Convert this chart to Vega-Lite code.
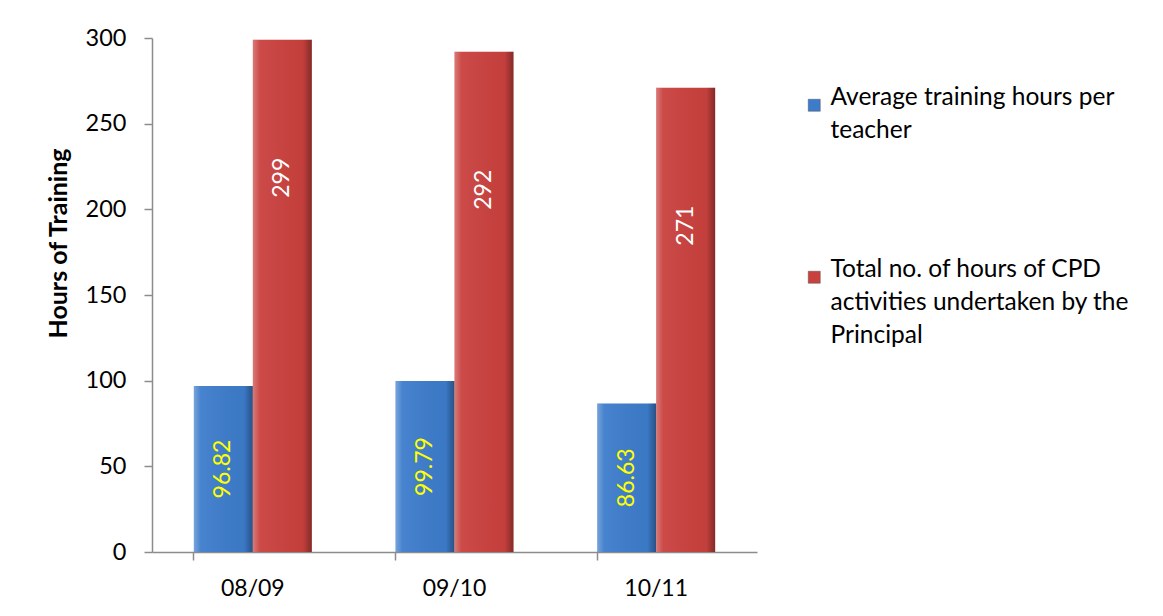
{
  "$schema": "https://vega.github.io/schema/vega-lite/v6.json",
  "autosize": {"type": "none"},
  "width": 605,
  "height": 514,
  "padding": {"left": 152, "top": 38, "right": 406, "bottom": 64},
  "background": "white",
  "config": {
    "view": {"stroke": null},
    "font": "Lato"
  },
  "data": {
    "values": [
      {"year": "08/09", "series": "Average training hours per teacher", "value": 96.82, "label": "96.82"},
      {"year": "08/09", "series": "Total no. of hours of CPD activities undertaken by the Principal", "value": 299, "label": "299"},
      {"year": "09/10", "series": "Average training hours per teacher", "value": 99.79, "label": "99.79"},
      {"year": "09/10", "series": "Total no. of hours of CPD activities undertaken by the Principal", "value": 292, "label": "292"},
      {"year": "10/11", "series": "Average training hours per teacher", "value": 86.63, "label": "86.63"},
      {"year": "10/11", "series": "Total no. of hours of CPD activities undertaken by the Principal", "value": 271, "label": "271"}
    ]
  },
  "encoding": {
    "x": {
      "field": "year", "type": "nominal", "sort": null,
      "scale": {"paddingInner": 0.415, "paddingOuter": 0.2075},
      "axis": {
        "title": null, "labelAngle": 0, "labelFontSize": 23, "labelColor": "#000000",
        "labelPadding": 17, "domainColor": "#8c8c8c", "domainWidth": 1.5,
        "tickColor": "#8c8c8c", "tickSize": 8, "tickWidth": 1.5, "bandPosition": 0,
        "encode": {"ticks": {"update": {"y2": {"value": -8}}}}
      }
    },
    "xOffset": {
      "field": "series", "type": "nominal", "sort": null,
      "scale": {"paddingInner": 0, "paddingOuter": 0}
    },
    "y": {
      "field": "value", "type": "quantitative",
      "scale": {"domain": [0, 300], "nice": false},
      "axis": {
        "title": "Hours of Training", "titleFontSize": 25, "titleFontWeight": "bold",
        "titleColor": "#000000", "titleX": -94, "titleY": 205, "titleBaseline": "middle", "titleAngle": -90,
        "values": [0, 50, 100, 150, 200, 250, 300],
        "labelFontSize": 23.5, "labelColor": "#000000", "labelPadding": 18,
        "grid": false, "domainColor": "#8c8c8c", "domainWidth": 1.5,
        "tickColor": "#8c8c8c", "tickSize": 8, "tickWidth": 1.5,
        "encode": {"ticks": {"update": {"x2": {"value": 8}}}}
      }
    }
  },
  "layer": [
    {
      "mark": {"type": "bar"},
      "encoding": {
        "color": {
          "field": "series", "type": "nominal", "sort": null,
          "scale": {"range": ["#3D7CCB", "#C9413E"]},
          "legend": {
            "title": null, "orient": "none", "legendX": 650, "legendY": 55,
            "symbolType": "square", "symbolSize": 144, "symbolStrokeColor": "#555555", "symbolStrokeWidth": 0.5,
            "labelFontSize": 24.5, "labelColor": "#000000", "labelLimit": 400,
            "labelBaseline": "top", "labelOffset": 4, "rowPadding": 114,
            "labelExpr": "datum.label == 'Average training hours per teacher' ? ['Average training hours per', 'teacher'] : ['Total no. of hours of CPD', 'activities undertaken by the', 'Principal']",
            "labelFont": "Lato",
            "encode": {"labels": {"update": {"dy": {"value": -19}, "lineHeight": {"value": 33}}}}
          }
        }
      }
    },
    {
      "mark": {
        "type": "bar",
        "fill": {
          "gradient": "linear", "x1": 0, "y1": 0, "x2": 1, "y2": 0,
          "stops": [
            {"offset": 0, "color": "rgba(255,255,255,0.30)"},
            {"offset": 0.12, "color": "rgba(255,255,255,0.05)"},
            {"offset": 0.85, "color": "rgba(0,0,0,0.03)"},
            {"offset": 1, "color": "rgba(0,0,0,0.35)"}
          ]
        }
      },
      "encoding": {}
    },
    {
      "transform": [
        {"filter": "datum.series == 'Average training hours per teacher'"},
        {"calculate": "datum.value / 2", "as": "mid"}
      ],
      "mark": {"type": "text", "angle": -90, "align": "center", "baseline": "middle", "fontSize": 23, "color": "#FFFF00", "font": "Lato"},
      "encoding": {
        "y": {"field": "mid", "type": "quantitative"},
        "text": {"field": "label"}
      }
    },
    {
      "transform": [
        {"filter": "datum.series != 'Average training hours per teacher'"}
      ],
      "mark": {"type": "text", "angle": -90, "align": "center", "baseline": "middle", "fontSize": 23, "color": "#FFFFFF", "font": "Lato", "dx": -138},
      "encoding": {
        "text": {"field": "label"}
      }
    }
  ]
}
